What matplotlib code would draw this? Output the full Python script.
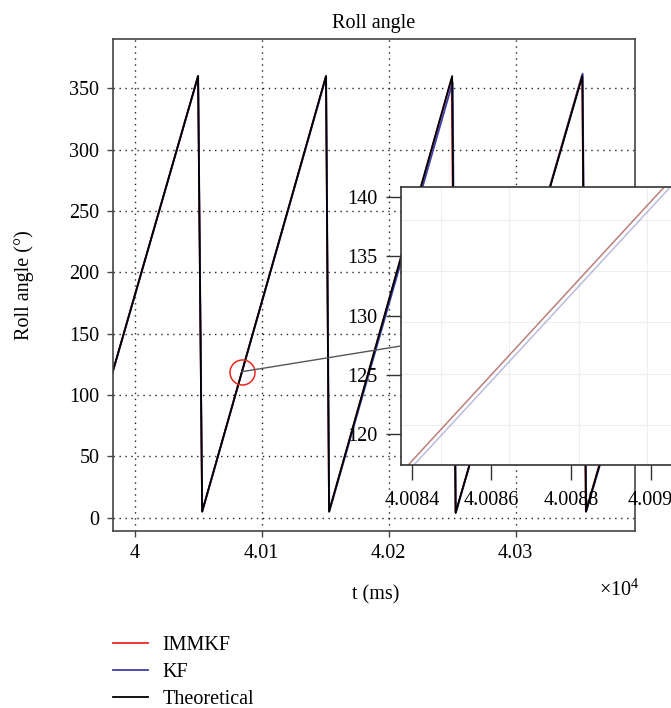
import matplotlib.pyplot as plt
from matplotlib.patches import ConnectionPatch
from matplotlib.ticker import FuncFormatter

plt.rcParams['font.family'] = ['Liberation Serif', 'DejaVu Serif']
plt.rcParams['mathtext.fontset'] = 'custom'
plt.rcParams['mathtext.rm'] = 'Liberation Serif'
plt.rcParams['mathtext.default'] = 'regular'

# corner points of the sawtooth (t in ms, angle in degrees)
t_theory = [39982.0, 40049.8, 40053.0, 40150.6, 40153.0, 40250.0, 40252.7, 40352.6, 40355.4, 40400.0]
y_theory = [117.0, 360.0, 5.0, 360.0, 5.0, 360.0, 4.0, 360.0, 5.0, 164.0]

t_immkf = [39982.0, 40049.8, 40053.0, 40150.6, 40153.0, 40249.6, 40252.7, 40352.4, 40355.3, 40400.0]
y_immkf = [117.2, 360.0, 5.0, 360.0, 5.0, 358.0, 4.0, 361.0, 5.0, 165.0]

t_kf = [39982.0, 40049.9, 40053.1, 40150.7, 40153.2, 40250.4, 40252.9, 40352.8, 40355.6, 40400.0]
y_kf = [116.5, 360.0, 5.0, 359.5, 5.0, 355.0, 4.0, 362.0, 5.0, 160.0]

x_ticks = [40000, 40100, 40200, 40300]
y_ticks = [0, 50, 100, 150, 200, 250, 300, 350]
inset_x_ticks = [40084, 40086, 40088, 40090]
inset_y_ticks = [120, 125, 130, 135, 140]

# zoomed spot marked by the red circle
zoom_t, zoom_y = 40084.2, 119.0

red = '#e8281e'
blue = '#3b3fa6'
fs = 14.5

fmt = FuncFormatter(lambda v, p: '%g' % (v / 1e4))

fig = plt.figure(figsize=(6.71, 7.08), dpi=100)
ax = fig.add_axes([0.1677, 0.2504, 0.7793, 0.694])

ax.plot(t_immkf, y_immkf, color=red, lw=1.3, label='IMMKF')
ax.plot(t_kf, y_kf, color=blue, lw=1.3, label='KF')
ax.plot(t_theory, y_theory, color='black', lw=1.3, label='Theoretical')
ax.plot([zoom_t], [zoom_y], 'o', ms=18, mfc='none', mec=red, mew=1.1)

ax.set_xlim(39982.4, 40394.4)
ax.set_ylim(-10.6, 389.9)
ax.set_xticks(x_ticks)
ax.set_yticks(y_ticks)
ax.xaxis.set_major_formatter(fmt)
ax.grid(True, color='#222222', lw=1.0, linestyle=(0, (1, 3.3)))
ax.tick_params(direction='out', length=4.5, width=1, labelsize=fs, pad=5, color='#444444')
for s in ax.spines.values():
    s.set_color('#444444')
    s.set_linewidth(1.2)

ax.set_title('Roll angle', fontsize=fs, pad=8)
ax.set_ylabel('Roll angle (°)', fontsize=fs)
ax.yaxis.set_label_coords(-0.150, 0.5)
ax.set_xlabel('t (ms)', fontsize=fs)
ax.xaxis.set_label_coords(0.504, -0.1105)
ax.text(1.0075, -0.133, '×10$^{4}$', transform=ax.transAxes, ha='right', va='baseline', fontsize=fs)

# inset, runs past the right edge of the figure like in the source
ins = fig.add_axes([0.5972, 0.3432, 0.4311, 0.3931])
ins.set_facecolor('white')
for gx in [40084.73, 40086.44, 40088.2, 40089.9]:
    ins.axvline(gx, color='#eeeeee', lw=0.8, zorder=0)
for gy in [120.78, 125.07, 129.45, 133.77, 138.04]:
    ins.axhline(gy, color='#eeeeee', lw=0.8, zorder=0)
ins.plot(t_immkf, y_immkf, color=red, lw=1.1, alpha=0.4)
ins.plot(t_kf, y_kf, color=blue, lw=1.1, alpha=0.35)
ins.plot(t_theory, y_theory, color='black', lw=1.0, alpha=0.25)
ins.set_xlim(40083.72, 40090.99)
ins.set_ylim(117.42, 140.85)
ins.set_xticks(inset_x_ticks)
ins.set_yticks(inset_y_ticks)
ins.xaxis.set_major_formatter(fmt)
ins.tick_params(direction='out', length=10.5, width=1, labelsize=fs, pad=4, color='#333333')
ins.tick_params(axis='x', pad=8)
ins.tick_params(axis='y', pad=6)
for s in ins.spines.values():
    s.set_color('#333333')
    s.set_linewidth(1.2)

con = ConnectionPatch(xyA=(zoom_t, zoom_y), coordsA=ax.transData,
                      xyB=(0, 0.4276), coordsB=ins.transAxes,
                      color='#555555', lw=1.0)
fig.add_artist(con)

handles, labels = ax.get_legend_handles_labels()
fig.legend(handles, labels, loc='upper left', bbox_to_anchor=(113 / 671, 1 - 636 / 708),
           frameon=False, fontsize=fs, handlelength=1.75, handletextpad=0.7,
           labelspacing=0.38, borderpad=0, borderaxespad=0)

fig.savefig('out.png', dpi=100)
